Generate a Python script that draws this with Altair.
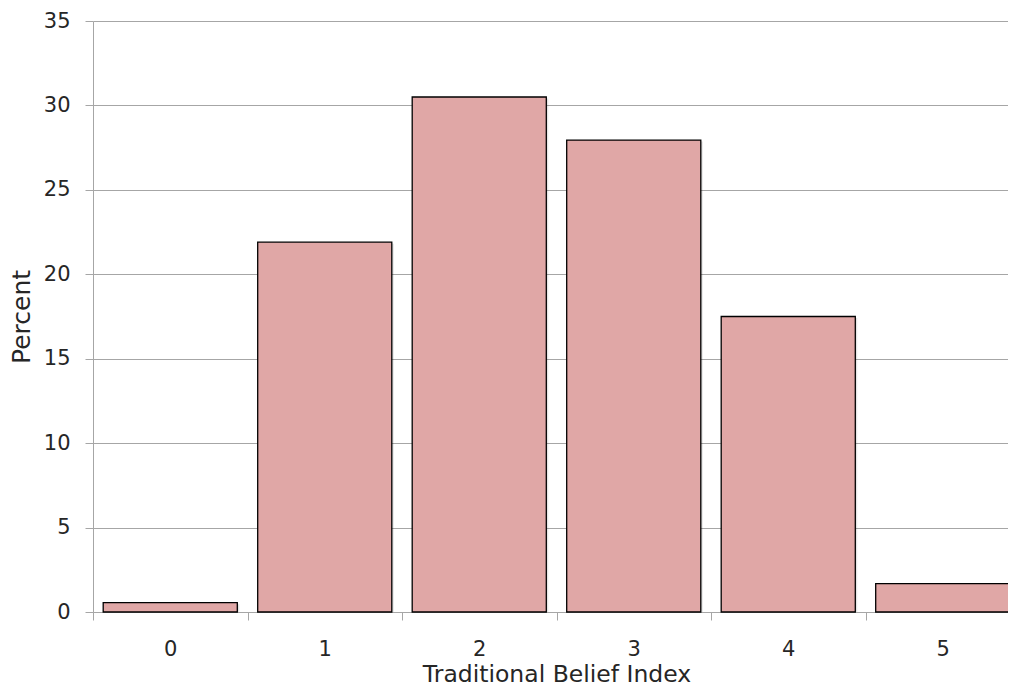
import altair as alt
import pandas as pd

categories = [0, 1, 2, 3, 4, 5]
percent = [0.55, 21.9, 30.5, 27.95, 17.5, 1.68]

df = pd.DataFrame({"idx": categories, "pct": percent})

FONT = "DejaVu Sans"
TXT = "#262626"
GRID = "#A6A6A6"
HALF = 0.434  # half bar width in category units
STEP_PX = 154.5
W = 915

x_scale = alt.Scale(domain=[-0.5, -0.5 + W / STEP_PX], nice=False, zero=False)
x_axis = alt.Axis(values=[c - 0.5 for c in categories], labelExpr="datum.value + 0.5",
                  labelOffset=STEP_PX / 2, labelFontSize=21, titleFontSize=23.5,
                  labelColor=TXT, titleColor=TXT, labelPadding=18,
                  titleBaseline="alphabetic", titleY=69, titleX=927 / 2,
                  domainColor=GRID, tickColor=GRID, tickSize=8, labelFont=FONT, titleFont=FONT,
                  titleFontWeight="normal", grid=False, labelFlush=False, labelOverlap=False)

y = alt.Y("pct:Q", title="Percent",
          scale=alt.Scale(domain=[0, 35], nice=False),
          axis=alt.Axis(values=[0, 5, 10, 15, 20, 25, 30, 35], labelFontSize=21, titleFontSize=25,
                        labelColor=TXT, titleColor=TXT, labelPadding=15, titlePadding=9,
                        domainColor=GRID, tickColor=GRID, gridColor=GRID, tickSize=8,
                        labelFont=FONT, titleFont=FONT, titleFontWeight="normal"))

base = alt.Chart(df).transform_calculate(
    x0=f"datum.idx - {HALF}", x1=f"datum.idx + {HALF}"
)

shadow = base.mark_bar(color="#000000", opacity=0.10, xOffset=2, x2Offset=2, yOffset=1.5).encode(
    x=alt.X("x0:Q", scale=x_scale, axis=x_axis, title="Traditional Belief Index"),
    x2="x1:Q", y=y, y2=alt.datum(0))
bars = base.mark_bar(color="#E0A7A6", stroke="#000000", strokeWidth=1.3).encode(
    x=alt.X("x0:Q", scale=x_scale, axis=x_axis, title="Traditional Belief Index"),
    x2="x1:Q", y=y, y2=alt.datum(0))

chart = (shadow + bars).properties(
    width=W, height=591,
    autosize=alt.AutoSizeParams(type="none"),
    padding={"left": 85, "top": 13, "right": 0, "bottom": 76},
).configure_view(stroke=None)

chart.save("out.html", embed_options={"renderer": "svg", "actions": False})
